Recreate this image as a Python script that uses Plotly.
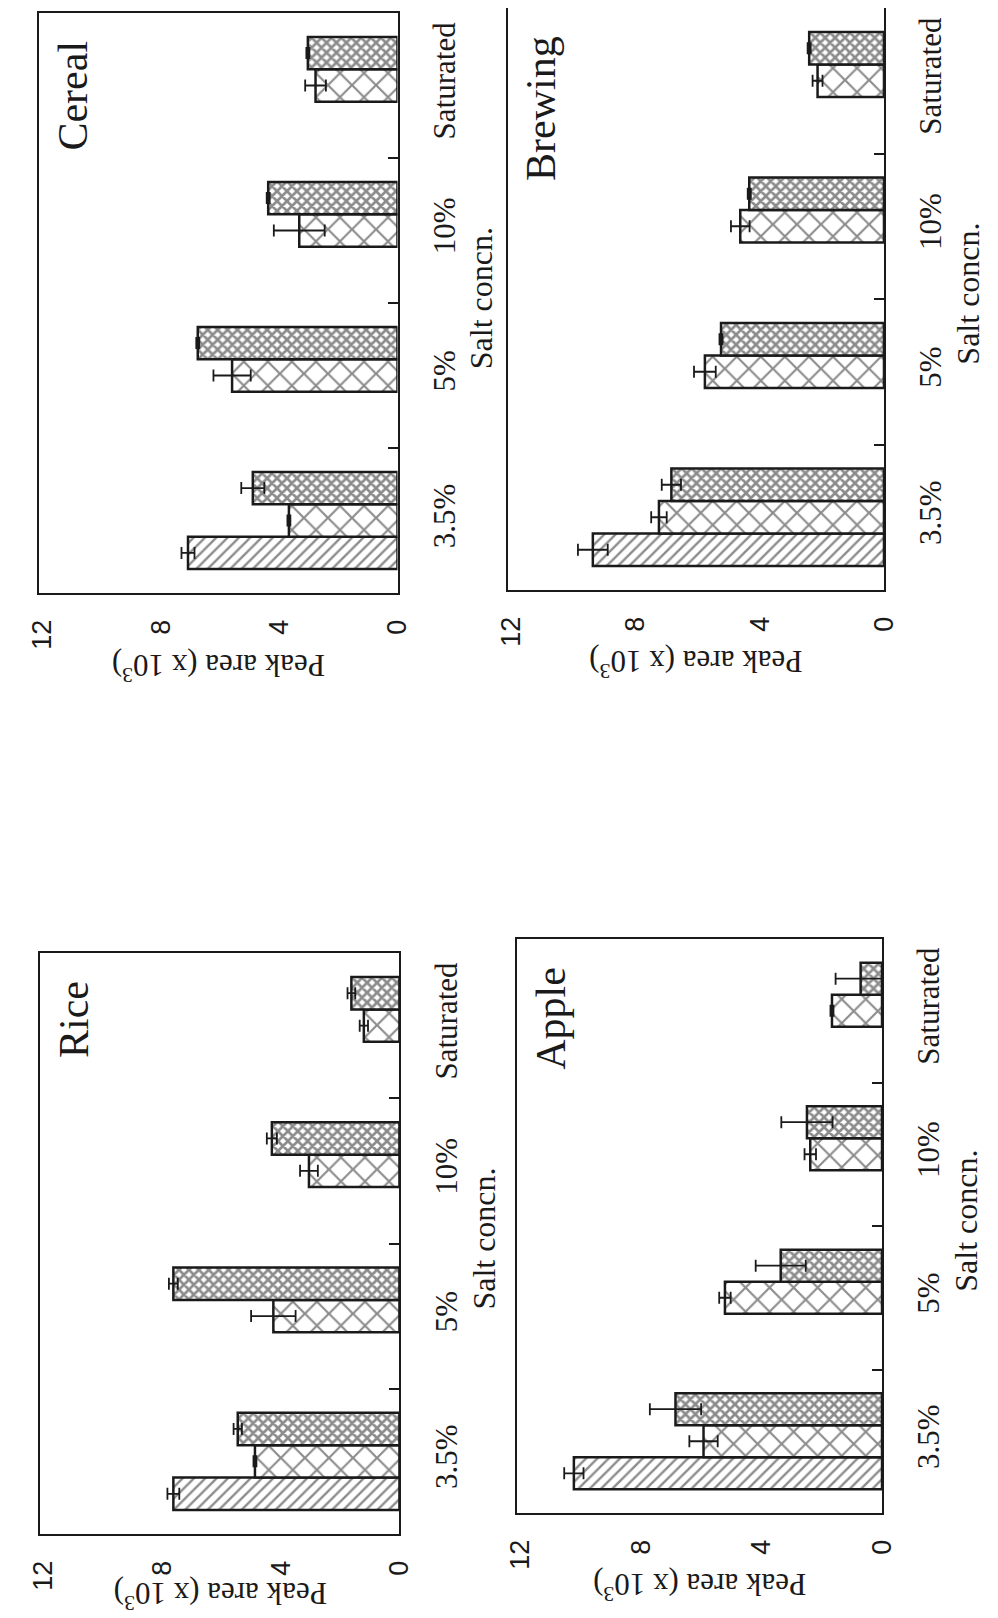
import plotly.graph_objects as go

W, H = 998, 1618

categories = ["3.5%", "5%", "10%", "Saturated"]
value_ticks = [0, 4, 8, 12]
value_tick_text = ["0", "4", "8", "12"]

# panel names
panel_names = ["Cereal", "Brewing", "Rice", "Apple"]

# series 1 (hatched), series 2 (open cross-hatch), series 3 (dense cross-hatch)
cereal_s1 = [7.08, None, None, None]
cereal_s1_err = [0.22, 0, 0, 0]
cereal_s2 = [3.67, 5.59, 3.32, 2.77]
cereal_s2_err = [0.05, 0.63, 0.86, 0.35]
cereal_s3 = [4.89, 6.75, 4.37, 3.03]
cereal_s3_err = [0.39, 0.05, 0.05, 0.05]

brewing_s1 = [9.38, None, None, None]
brewing_s1_err = [0.48, 0, 0, 0]
brewing_s2 = [7.25, 5.77, 4.63, 2.14]
brewing_s2_err = [0.25, 0.35, 0.30, 0.16]
brewing_s3 = [6.85, 5.25, 4.34, 2.41]
brewing_s3_err = [0.31, 0.05, 0.05, 0.05]

rice_s1 = [7.62, None, None, None]
rice_s1_err = [0.20, 0, 0, 0]
rice_s2 = [4.87, 4.25, 3.05, 1.20]
rice_s2_err = [0.05, 0.75, 0.30, 0.14]
rice_s3 = [5.45, 7.62, 4.30, 1.62]
rice_s3_err = [0.14, 0.15, 0.17, 0.13]

apple_s1 = [10.22, None, None, None]
apple_s1_err = [0.32, 0, 0, 0]
apple_s2 = [5.92, 5.21, 2.38, 1.66]
apple_s2_err = [0.47, 0.19, 0.19, 0.05]
apple_s3 = [6.85, 3.36, 2.49, 0.71]
apple_s3_err = [0.85, 0.83, 0.85, 0.83]

panel_data = {
    "Cereal": [(cereal_s1, cereal_s1_err), (cereal_s2, cereal_s2_err), (cereal_s3, cereal_s3_err)],
    "Brewing": [(brewing_s1, brewing_s1_err), (brewing_s2, brewing_s2_err), (brewing_s3, brewing_s3_err)],
    "Rice": [(rice_s1, rice_s1_err), (rice_s2, rice_s2_err), (rice_s3, rice_s3_err)],
    "Apple": [(apple_s1, apple_s1_err), (apple_s2, apple_s2_err), (apple_s3, apple_s3_err)],
}

# frame boxes in pixels: x0, x1, y0(top), y1(bottom)
boxes = {
    "Cereal": (20, 388, 5, 585),
    "Brewing": (502, 888, 0, 582),
    "Rice": (21, 390, 945, 1526),
    "Apple": (511, 886, 931, 1505),
}

INK = "#1a1a1a"
SERIF = "Liberation Serif"
SANS = "Liberation Sans"

patterns = [
    dict(shape="/", size=8, solidity=0.3, fgcolor=INK, bgcolor="white"),
    dict(shape="x", size=17, solidity=0.24, fgcolor=INK, bgcolor="white"),
    dict(shape="x", size=7, solidity=0.62, fgcolor=INK, bgcolor="white"),
]

fig = go.Figure()
layout = dict(
    width=W, height=H, margin=dict(l=0, r=0, t=0, b=0),
    paper_bgcolor="white", plot_bgcolor="white",
    barmode="group", bargap=0.33, bargroupgap=0.0, showlegend=False,
)
annotations = []

for i, name in enumerate(panel_names):
    n = i + 1
    xa = "x" if n == 1 else f"x{n}"
    ya = "y" if n == 1 else f"y{n}"
    x0, x1, y0, y1 = boxes[name]
    for s, (vals, errs) in enumerate(panel_data[name]):
        fig.add_trace(go.Bar(
            x=vals, y=categories, orientation="h",
            xaxis=xa, yaxis=ya,
            marker=dict(color="white", line=dict(color=INK, width=2.5), pattern=patterns[s]),
            error_x=dict(type="data", array=errs, symmetric=True, color=INK, thickness=1.8, width=6),
            offsetgroup=str(s),
        ))
    xkey = "xaxis" if n == 1 else f"xaxis{n}"
    ykey = "yaxis" if n == 1 else f"yaxis{n}"
    layout[xkey] = dict(
        domain=[x0 / W, x1 / W], anchor=ya, range=[12.1, 0],
        tickvals=value_ticks, ticktext=value_tick_text, tickangle=-90,
        tickfont=dict(family=SANS, size=27, color=INK), ticks="",
        showline=True, linecolor=INK, linewidth=2, mirror=(name != "Brewing"),
        showgrid=False, zeroline=False, ticklabelstandoff=14,
    )
    layout[ykey] = dict(
        domain=[1 - y1 / H, 1 - y0 / H], anchor=xa, side="right",
        type="category", categoryorder="array", categoryarray=categories,
        range=[-0.5, 3.5],
        tickangle=-90, tickfont=dict(family=SERIF, size=31, color=INK),
        ticks="inside", ticklen=10, tickwidth=1.5, tickcolor=INK, tickson="boundaries",
        showline=True, linecolor=INK, linewidth=2, mirror=True,
        showgrid=False, zeroline=False, ticklabelstandoff=18,
    )
    cx = (x0 + x1) / 2
    # panel title
    annotations.append(dict(
        text=name, x=(x0 + 34) / W, y=1 - (y0 + 26) / H, xref="paper", yref="paper",
        xanchor="center", yanchor="top", textangle=-90, showarrow=False,
        font=dict(family=SERIF, size=42, color=INK),
    ))
    # category axis title
    annotations.append(dict(
        text="Salt concn.", x=(x1 + 86) / W, y=1 - ((y0 + y1) / 2 - 5) / H,
        xref="paper", yref="paper", xanchor="center", yanchor="middle",
        textangle=-90, showarrow=False, font=dict(family=SERIF, size=32, color=INK),
    ))
    # value axis title (upside down)
    annotations.append(dict(
        text="Peak area (x 10<sup>3</sup>)", x=cx / W, y=1 - min(y1 + 74, 1588) / H,
        xref="paper", yref="paper", xanchor="center", yanchor="middle",
        textangle=180, showarrow=False, font=dict(family=SERIF, size=31, color=INK),
    ))

layout["annotations"] = annotations
fig.update_layout(**layout)
fig.write_html("out.html")
